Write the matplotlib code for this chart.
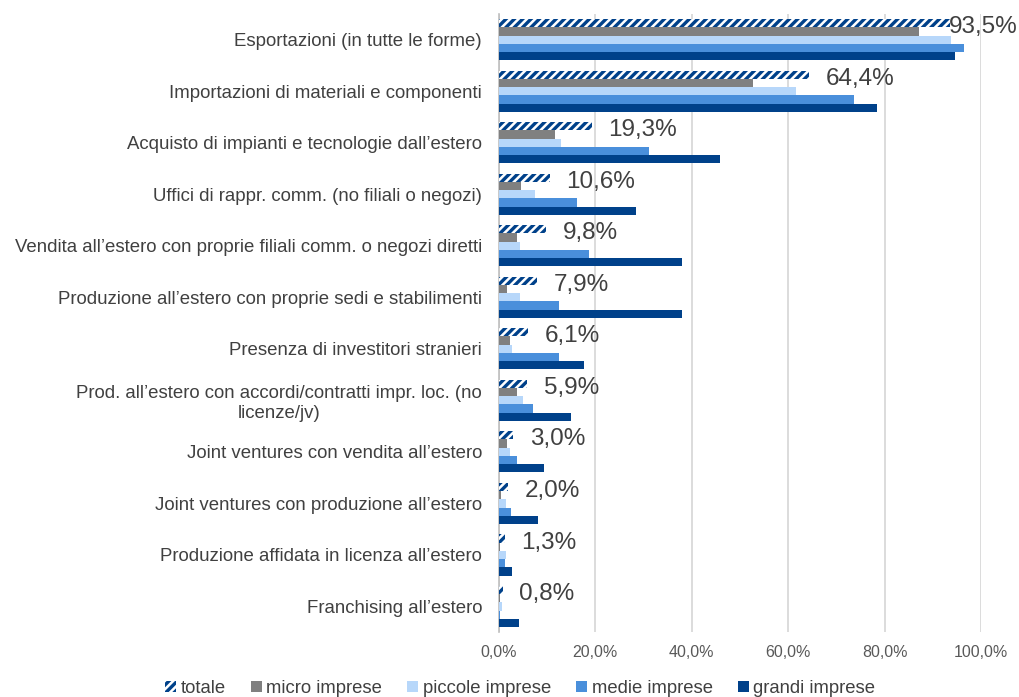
import numpy as np
import matplotlib.pyplot as plt
from matplotlib.patches import Patch

plt.rcParams['font.family'] = ['Liberation Sans', 'DejaVu Sans']
plt.rcParams['hatch.linewidth'] = 2.4

categorie = [
    "Esportazioni (in tutte le forme)",
    "Importazioni di materiali e componenti",
    "Acquisto di impianti e tecnologie dall’estero",
    "Uffici di rappr. comm. (no filiali o negozi)",
    "Vendita all’estero con proprie filiali comm. o negozi diretti",
    "Produzione all’estero con proprie sedi e stabilimenti",
    "Presenza di investitori stranieri",
    "Prod. all’estero con accordi/contratti impr. loc. (no\nlicenze/jv)",
    "Joint ventures con vendita all’estero",
    "Joint ventures con produzione all’estero",
    "Produzione affidata in licenza all’estero",
    "Franchising all’estero",
]

totale = [93.5, 64.4, 19.3, 10.6, 9.8, 7.9, 6.1, 5.9, 3.0, 2.0, 1.3, 0.8]
micro = [87.0, 52.7, 11.7, 4.6, 3.7, 1.8, 2.3, 3.7, 1.8, 0.4, 0.2, 0.2]
piccole = [93.7, 61.6, 13.0, 7.6, 4.3, 4.3, 2.8, 5.0, 2.4, 1.4, 1.6, 0.7]
medie = [96.5, 73.6, 31.1, 16.2, 18.6, 12.5, 12.5, 7.1, 3.7, 2.6, 1.3, 0.3]
grandi = [94.6, 78.3, 45.9, 28.4, 37.9, 37.9, 17.6, 14.9, 9.4, 8.1, 2.7, 4.1]

serie = ["totale", "micro imprese", "piccole imprese", "medie imprese", "grandi imprese"]
valori = [totale, micro, piccole, medie, grandi]
colori = ["#00418A", "#808080", "#B7D7FA", "#4A8FDB", "#00418A"]

fig = plt.figure(figsize=(10.2, 6.97), dpi=100)
ax = fig.add_axes([0.489, 0.093, 0.473, 0.887])

y = np.arange(len(categorie))
h = 0.16
for i, (nome, vals, col) in enumerate(zip(serie, valori, colori)):
    pos = y + (i - 2) * h
    if i == 0:
        ax.barh(pos, vals, height=h, color="white", edgecolor=col,
                linewidth=0, hatch="////", zorder=3)
    else:
        ax.barh(pos, vals, height=h, color=col, linewidth=0, zorder=3)

# etichette del totale
for yi, v in zip(y, totale):
    xt = min(v + 3.4, 93.2)
    ax.text(xt, yi - 2 * h + 0.08, f"{v:.1f}%".replace(".", ","),
            va="center", ha="left", fontsize=17.5, color="#404040", zorder=4)

ax.set_ylim(len(categorie) - 0.5, -0.5)
ax.set_xlim(0, 100)
ax.set_yticks(y)
ax.set_yticklabels(categorie, fontsize=13.4, color="#404040",
                   multialignment="center")
ax.set_xticks(np.arange(0, 101, 20))
ax.set_xticklabels([f"{t:.1f}%".replace(".", ",") for t in np.arange(0, 101, 20)],
                   fontsize=11.5, color="#595959")
ax.tick_params(axis="y", length=0, pad=12)
ax.tick_params(axis="x", length=0, pad=9)
ax.grid(axis="x", color="#d9d9d9", linewidth=1.3, zorder=0)
for s in ["top", "right", "bottom"]:
    ax.spines[s].set_visible(False)
ax.spines["left"].set_color("#bfbfbf")
ax.spines["left"].set_linewidth(1.2)

handles = [Patch(facecolor="white", edgecolor=colori[0], hatch="////", linewidth=0)]
handles += [Patch(facecolor=c, linewidth=0) for c in colori[1:]]
fig.legend(handles, serie, loc="lower center", ncol=5, frameon=False,
           bbox_to_anchor=(0.51, -0.024), fontsize=13.3, handlelength=0.6,
           handleheight=0.6, handletextpad=0.25, columnspacing=1.35,
           labelcolor="#404040")

fig.savefig("out.png", dpi=100)
